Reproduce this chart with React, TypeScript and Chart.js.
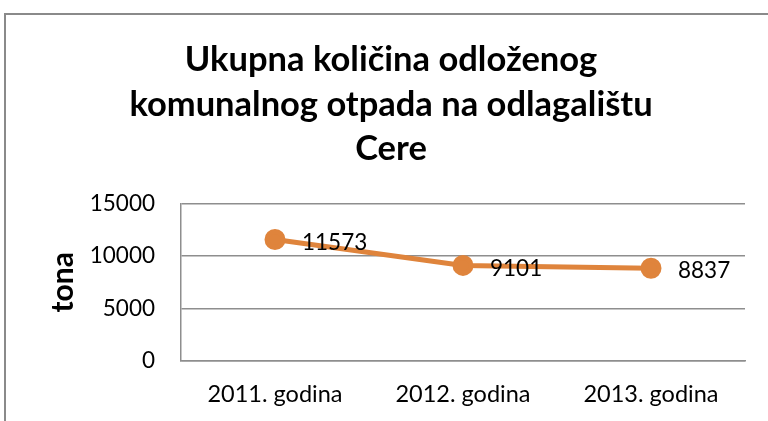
import React, { useEffect, useRef } from "react";
import { Chart, registerables } from "chart.js";

Chart.register(...registerables);

const categories = ["2011. godina", "2012. godina", "2013. godina"];
const values = [11573, 9101, 8837];
const yTicks = [0, 5000, 10000, 15000];
const titleLines = ["Ukupna količina odloženog", "komunalnog otpada na odlagalištu", "Cere"];
const yTitle = "tona";

const FONT = "Lato, 'Open Sans', sans-serif";
const ORANGE = "#DF843C";
const GRID = "#8E8E8E";

const framePlugin = {
  id: "frame",
  beforeDraw(chart: any) {
    const ctx = chart.ctx;
    ctx.save();
    ctx.fillStyle = "#ffffff";
    ctx.fillRect(0, 0, chart.width, chart.height);
    ctx.strokeStyle = "#8A8A8A";
    ctx.lineWidth = 2;
    ctx.beginPath();
    ctx.moveTo(5, chart.height);
    ctx.lineTo(5, 14);
    ctx.lineTo(chart.width, 14);
    ctx.stroke();
    ctx.restore();
  },
};

const labelPlugin = {
  id: "valueLabels",
  afterDatasetsDraw(chart: any) {
    const ctx = chart.ctx;
    const meta = chart.getDatasetMeta(0);
    ctx.save();
    ctx.font = `22.5px ${FONT}`;
    ctx.fillStyle = "#000000";
    ctx.textAlign = "left";
    ctx.textBaseline = "middle";
    meta.data.forEach((pt: any, i: number) => {
      ctx.fillText(String(chart.data.datasets[0].data[i]), pt.x + 27, pt.y + 3);
    });
    ctx.restore();
  },
};

export default function App() {
  const ref = useRef<HTMLCanvasElement>(null);
  useEffect(() => {
    if (!ref.current) return;
    const chart = new Chart(ref.current, {
      type: "line",
      data: {
        labels: categories,
        datasets: [
          {
            data: values,
            borderColor: ORANGE,
            backgroundColor: ORANGE,
            borderWidth: 5,
            pointRadius: 8,
            pointHoverRadius: 8,
            pointBackgroundColor: ORANGE,
            pointBorderColor: ORANGE,
            tension: 0,
          },
        ],
      },
      options: {
        animation: false,
        responsive: false,
        maintainAspectRatio: false,
        layout: { padding: { left: 37, right: 23, top: 0, bottom: 0 } },
        plugins: {
          legend: { display: false },
          tooltip: { enabled: false },
          title: {
            display: true,
            text: titleLines,
            color: "#000000",
            font: { family: FONT, size: 34.5, weight: "bold", lineHeight: 1.29 },
            padding: { top: 38, bottom: 32 },
          },
        },
        scales: {
          x: {
            offset: true,
            grid: { display: false, drawTicks: false },
            border: { display: true, color: GRID, width: 1.5 },
            ticks: { color: "#000000", font: { family: FONT, size: 23.5 }, padding: 19, maxRotation: 0 },
            afterFit(scale: any) {
              scale.height = 60;
            },
          },
          y: {
            min: 0,
            max: 15000,
            afterBuildTicks(scale: any) {
              scale.ticks = yTicks.map((v) => ({ value: v }));
            },
            grid: { color: GRID, lineWidth: 1.5, drawTicks: false },
            border: { display: true, color: GRID, width: 1.5 },
            ticks: {
              color: "#000000",
              font: { family: FONT, size: 22.5 },
              padding: 26,
              callback: (v: any) => String(v),
            },
            title: {
              display: true,
              text: yTitle,
              color: "#000000",
              font: { family: FONT, size: 30, weight: "bold", lineHeight: 1.2 },
              padding: { top: 8, bottom: 0 },
            },
            afterFit(scale: any) {
              scale.width = 144;
            },
          },
        },
      },
      plugins: [framePlugin, labelPlugin],
    });
    return () => chart.destroy();
  }, []);
  return (
    <div style={{ position: "fixed", left: 0, top: 0, width: 768, height: 421, background: "#fff" }}>
      <canvas ref={ref} width={768} height={421} style={{ display: "block", width: 768, height: 421 }} />
    </div>
  );
}
